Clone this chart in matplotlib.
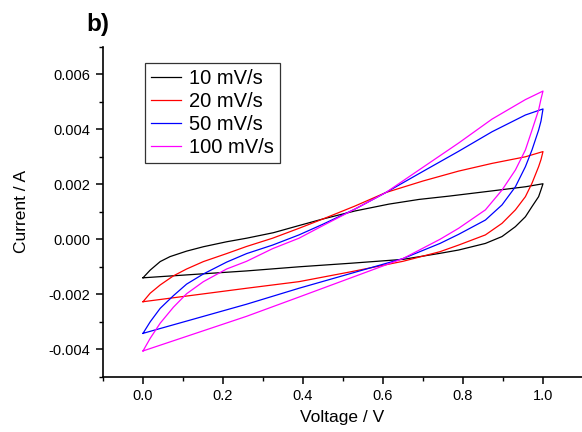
import matplotlib
matplotlib.use("Agg")
import matplotlib.pyplot as plt
import numpy as np
from matplotlib.ticker import MultipleLocator

plt.rcParams['font.family'] = ['Liberation Sans', 'DejaVu Sans']

labels = ["10 mV/s", "20 mV/s", "50 mV/s", "100 mV/s"]
colors = ["black", "red", "blue", "magenta"]

# anodic sweep (0 -> 1 V)
v_up_10 = [0, 0.018, 0.043, 0.0675, 0.109, 0.151, 0.209, 0.259, 0.326, 0.39, 0.45, 0.53, 0.615, 0.69, 0.765, 0.8725, 0.956, 1.0]
i_up_10 = [-0.0014, -0.00112, -0.00081, -0.00063, -0.00043, -0.00027, -0.00009, 0.00004, 0.00024, 0.0005, 0.00074, 0.00103, 0.00128, 0.00145, 0.00157, 0.00176, 0.00191, 0.00202]
# cathodic sweep (1 -> 0 V)
v_dn_10 = [1.0, 0.995, 0.989, 0.9725, 0.956, 0.931, 0.8975, 0.856, 0.789, 0.7425, 0.65, 0.52, 0.39, 0.259, 0]
i_dn_10 = [0.00202, 0.0018, 0.00155, 0.00119, 0.00082, 0.00046, 0.0001, -0.00015, -0.00039, -0.00051, -0.00073, -0.00087, -0.0010, -0.00115, -0.0014]

v_up_20 = [0, 0.018, 0.043, 0.076, 0.109, 0.151, 0.209, 0.259, 0.324, 0.39, 0.45, 0.53, 0.607, 0.70, 0.789, 0.8725, 0.956, 1.0]
i_up_20 = [-0.00227, -0.00196, -0.00166, -0.00133, -0.00108, -0.00081, -0.00052, -0.00026, 0.00004, 0.0004, 0.00074, 0.00121, 0.0017, 0.00212, 0.00248, 0.00276, 0.003, 0.00319]
v_dn_20 = [1.0, 0.995, 0.989, 0.9725, 0.956, 0.931, 0.8975, 0.856, 0.789, 0.7425, 0.65, 0.52, 0.39, 0.259, 0]
i_dn_20 = [0.00319, 0.0029, 0.00264, 0.00204, 0.00155, 0.00107, 0.00058, 0.00016, -0.00021, -0.00045, -0.0008, -0.00118, -0.00154, -0.00178, -0.00227]

v_up_50 = [0, 0.018, 0.043, 0.076, 0.109, 0.151, 0.209, 0.259, 0.324, 0.39, 0.45, 0.53, 0.607, 0.70, 0.789, 0.8725, 0.956, 1.0]
i_up_50 = [-0.00342, -0.003, -0.00251, -0.00205, -0.00163, -0.00126, -0.00083, -0.00052, -0.00021, 0.00016, 0.00055, 0.0011, 0.0017, 0.00247, 0.0032, 0.00391, 0.00452, 0.00474]
v_dn_50 = [1.0, 0.995, 0.989, 0.9725, 0.956, 0.931, 0.8975, 0.856, 0.789, 0.7425, 0.65, 0.52, 0.39, 0.259, 0]
i_dn_50 = [0.00474, 0.0043, 0.00397, 0.00325, 0.00264, 0.00191, 0.00125, 0.0007, 0.00018, -0.00015, -0.0007, -0.00124, -0.00178, -0.00236, -0.00342]

v_up_100 = [0, 0.018, 0.043, 0.076, 0.109, 0.151, 0.209, 0.259, 0.324, 0.39, 0.45, 0.53, 0.607, 0.70, 0.789, 0.8725, 0.956, 1.0]
i_up_100 = [-0.00406, -0.0036, -0.00305, -0.00247, -0.00198, -0.00154, -0.00108, -0.0008, -0.00034, 0.00004, 0.0005, 0.0011, 0.0017, 0.00262, 0.0035, 0.00437, 0.00508, 0.00539]
v_dn_100 = [1.0, 0.995, 0.989, 0.9725, 0.956, 0.931, 0.8975, 0.856, 0.789, 0.7425, 0.65, 0.52, 0.39, 0.259, 0]
i_dn_100 = [0.00539, 0.0051, 0.0047, 0.00397, 0.00325, 0.00252, 0.00179, 0.00107, 0.0004, 0.0, -0.0007, -0.0014, -0.0021, -0.0028, -0.00406]

v_up = [v_up_10, v_up_20, v_up_50, v_up_100]
i_up = [i_up_10, i_up_20, i_up_50, i_up_100]
v_dn = [v_dn_10, v_dn_20, v_dn_50, v_dn_100]
i_dn = [i_dn_10, i_dn_20, i_dn_50, i_dn_100]

fig = plt.figure(figsize=(5.82, 4.32), dpi=100)
ax = fig.add_axes([103 / 582, 1 - 376.8 / 432, 479 / 582, 330 / 432])

for k in range(4):
    v = list(v_up[k]) + list(v_dn[k])
    i = list(i_up[k]) + list(i_dn[k])
    ax.plot(v, i, color=colors[k], lw=0.9, label=labels[k])

ax.set_xlim(-0.1, 1.0975)
ax.set_ylim(-0.005, 0.007)
ax.set_xticks([0.0, 0.2, 0.4, 0.6, 0.8, 1.0])
ax.set_yticks([-0.004, -0.002, 0.000, 0.002, 0.004, 0.006])
ax.set_xticklabels(["0.0", "0.2", "0.4", "0.6", "0.8", "1.0"])
ax.set_yticklabels(["-0.004", "-0.002", "0.000", "0.002", "0.004", "0.006"])
ax.xaxis.set_minor_locator(MultipleLocator(0.1))
ax.yaxis.set_minor_locator(MultipleLocator(0.001))

ax.spines['top'].set_visible(False)
ax.spines['right'].set_visible(False)
ax.spines['left'].set_linewidth(1.2)
ax.spines['bottom'].set_linewidth(1.2)
ax.tick_params(which='major', direction='out', length=5, width=1.1, labelsize=10.5, pad=4)
ax.tick_params(which='minor', direction='out', length=3, width=1.0)

ax.set_xlabel("Voltage / V", fontsize=12.5, labelpad=5)
ax.set_ylabel("Current / A", fontsize=12.5, labelpad=14)

leg = ax.legend(loc='upper left', bbox_to_anchor=(0.0877, 0.951), borderaxespad=0,
                fontsize=14.5, handlelength=1.5, handletextpad=0.4, labelspacing=0.2,
                fancybox=False, framealpha=1, edgecolor='#333333', borderpad=0.3)
leg.get_frame().set_linewidth(0.9)

fig.text(86 / 582, 1 - 31 / 432, "b)", fontsize=17.5, fontweight='bold')

plt.savefig("out.png", dpi=100)
